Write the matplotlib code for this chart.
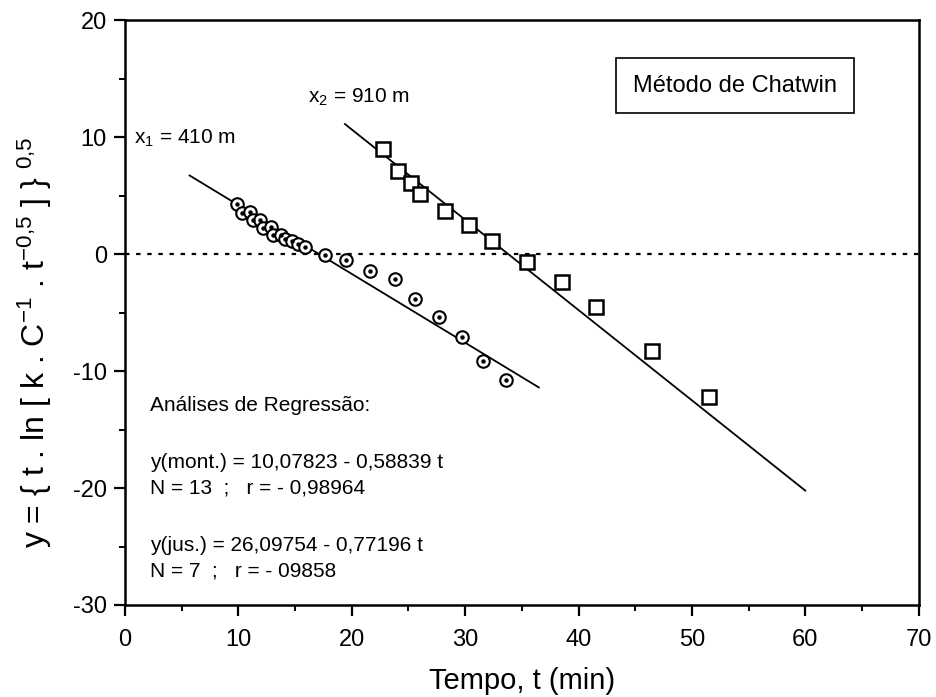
import matplotlib
matplotlib.use("Agg")
import matplotlib.pyplot as plt
from matplotlib.ticker import MultipleLocator
import numpy as np

plt.rcParams['font.family'] = ['Liberation Sans', 'DejaVu Sans']
plt.rcParams['mathtext.fontset'] = 'custom'
plt.rcParams['mathtext.rm'] = 'Liberation Sans'
plt.rcParams['mathtext.it'] = 'Liberation Sans'
plt.rcParams['mathtext.bf'] = 'Liberation Sans:bold'
plt.rcParams['axes.unicode_minus'] = False

# Upstream station (x1 = 410 m)
t_mont = [9.85, 10.3, 11.0, 11.3, 11.9, 12.2, 12.9, 13.1, 13.8, 14.1, 14.7,
          15.3, 15.9, 17.6, 19.5, 21.6, 23.8, 25.6, 27.7, 29.7, 31.6, 33.6]
y_mont = [4.3, 3.5, 3.6, 2.9, 2.9, 2.2, 2.3, 1.6, 1.6, 1.3, 1.1,
          0.9, 0.6, -0.1, -0.5, -1.4, -2.1, -3.8, -5.4, -7.1, -9.1, -10.8]

# Downstream station (x2 = 910 m)
t_jus = [22.8, 24.1, 25.2, 26.0, 28.2, 30.3, 32.4, 35.5, 38.5, 41.5, 46.5, 51.5]
y_jus = [9.0, 7.1, 6.1, 5.1, 3.7, 2.5, 1.1, -0.7, -2.4, -4.5, -8.3, -12.2]

# Regression coefficients (intercept, slope) and fitted ranges
a_mont, b_mont = 10.07823, -0.58839
a_jus, b_jus = 26.09754, -0.77196
range_mont = (5.7, 36.5)
range_jus = (19.4, 60.0)


def fmt(v):
    return f'{v:.5f}'.replace('.', ',')


fig = plt.figure(figsize=(9.36, 6.97), dpi=100)
ax = fig.add_axes([0.1335, 0.132, 0.848, 0.839])

ax.axhline(0, color='black', lw=1.6, ls=(0, (2.0, 3.0)), zorder=1)

tm = np.array(range_mont)
ax.plot(tm, a_mont + b_mont * tm, color='black', lw=1.3, zorder=2)
tj = np.array(range_jus)
ax.plot(tj, a_jus + b_jus * tj, color='black', lw=1.3, zorder=2)

ax.plot(t_mont, y_mont, ls='none', marker='o', ms=9, mfc='white',
        mec='black', mew=1.5, zorder=3)
ax.plot(t_mont, y_mont, ls='none', marker='o', ms=2.2, mfc='black',
        mec='black', zorder=4)
ax.plot(t_jus, y_jus, ls='none', marker='s', ms=9.5, mfc='white',
        mec='black', mew=1.8, zorder=3)

ax.set_xlim(0, 70)
ax.set_ylim(-30, 20)
ax.xaxis.set_major_locator(MultipleLocator(10))
ax.xaxis.set_minor_locator(MultipleLocator(5))
ax.yaxis.set_major_locator(MultipleLocator(10))
ax.yaxis.set_minor_locator(MultipleLocator(5))
ax.tick_params(which='major', direction='out', length=8, width=1.6,
               labelsize=17, top=False, right=False)
ax.tick_params(axis='x', which='major', pad=9)
ax.tick_params(axis='y', which='major', pad=5)
ax.tick_params(which='minor', direction='out', length=4, width=1.4,
               top=False, right=False)
for s in ax.spines.values():
    s.set_linewidth(1.8)

ax.set_xlabel('Tempo, t (min)', fontsize=21, labelpad=12)
ax.set_ylabel(r'y = { t . ln [ k . C$^{\mathregular{-1}}$ . t$^{\mathregular{-0{,}5}}$ ] } $^{\mathregular{0{,}5}}$',
              fontsize=23)
ax.yaxis.set_label_coords(-0.09, 0.45)

ax.text(0.8, 9.9, r'x$_{\mathregular{1}}$ = 410 m', fontsize=15, va='center', ha='left')
ax.text(16.1, 13.4, r'x$_{\mathregular{2}}$ = 910 m', fontsize=15, va='center', ha='left')

ax.text(53.8, 14.4, 'Método de Chatwin', fontsize=17, ha='center', va='center',
        bbox=dict(boxstyle='square,pad=0.7', fc='white', ec='black', lw=1.2))

ax.text(2.2, -12.9, 'Análises de Regressão:', fontsize=15, va='center', ha='left')
ax.text(2.2, -17.8, f'y(mont.) = {fmt(a_mont)} - {fmt(abs(b_mont))} t',
        fontsize=15, va='center', ha='left')
ax.text(2.2, -20.0, 'N = 13  ;   r = - 0,98964', fontsize=15, va='center', ha='left')
ax.text(2.2, -24.9, f'y(jus.) = {fmt(a_jus)} - {fmt(abs(b_jus))} t',
        fontsize=15, va='center', ha='left')
ax.text(2.2, -27.1, 'N = 7  ;   r = - 09858', fontsize=15, va='center', ha='left')

fig.savefig('out.png', dpi=100)
